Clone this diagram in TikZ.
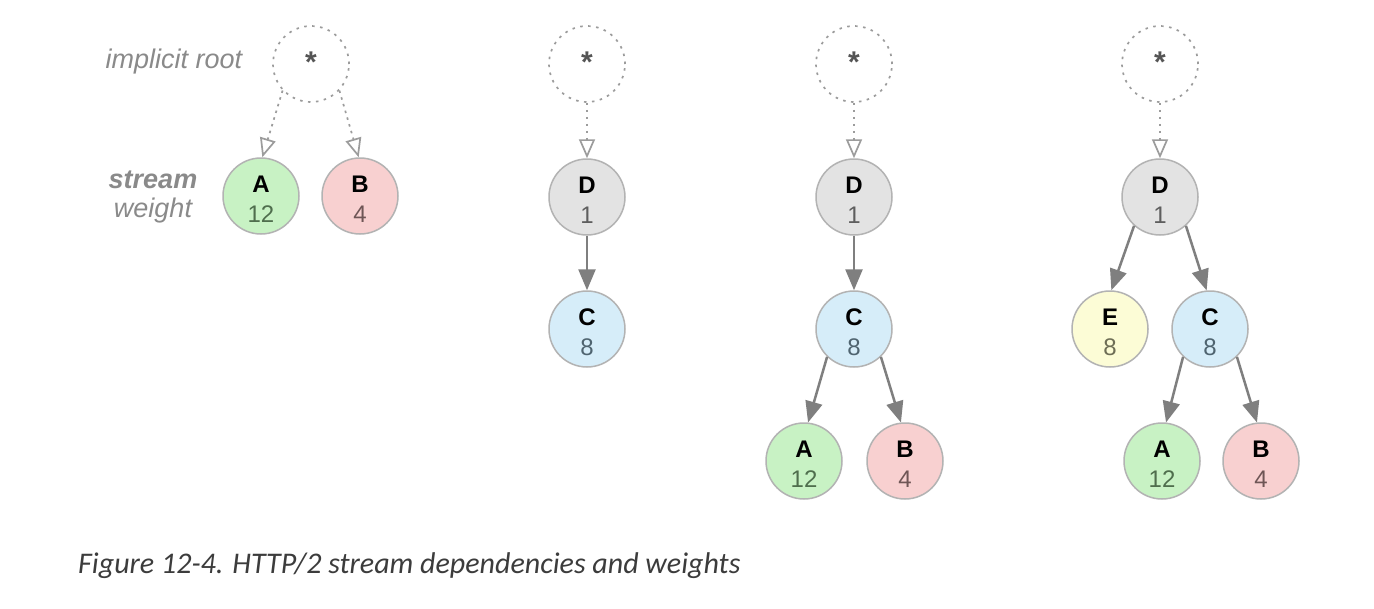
\documentclass[tikz,border=0pt]{standalone}
\usepackage{fontspec}
\setmainfont{Liberation Sans}
\newfontfamily\capfont{Carlito}
\usetikzlibrary{arrows.meta}
\definecolor{ringc}{HTML}{B3B3B3}
\definecolor{rootc}{HTML}{9C9C9C}
\definecolor{arrc}{HTML}{7F7F7F}
\definecolor{fillA}{HTML}{C8F2C4}
\definecolor{fillB}{HTML}{F8D0D0}
\definecolor{fillC}{HTML}{D6EDF9}
\definecolor{fillD}{HTML}{E3E3E3}
\definecolor{fillE}{HTML}{FCFCD6}
\definecolor{numA}{HTML}{4F6E4D}
\definecolor{numB}{HTML}{6F5656}
\definecolor{numC}{HTML}{4F6470}
\definecolor{numD}{HTML}{5E5E5E}
\definecolor{numE}{HTML}{6E6E56}
\definecolor{labc}{HTML}{8A8A8A}
\definecolor{capc}{HTML}{3C3C3C}
\definecolor{starc}{HTML}{555555}
\newcommand{\sn}[3]{\rule{0pt}{22.5pt}\textbf{\color{black}#1}\\{\color{#3}#2}}
\begin{document}
\begin{tikzpicture}[x=1pt,y=-1pt,
  stream/.style={circle,draw=ringc,line width=1.5pt,minimum size=76pt,inner sep=0pt,
    align=center,font=\fontsize{24}{30}\selectfont},
  sA/.style={stream,fill=fillA},
  sB/.style={stream,fill=fillB},
  sC/.style={stream,fill=fillC},
  sD/.style={stream,fill=fillD},
  sE/.style={stream,fill=fillE},
  rootnode/.style={circle,draw=rootc,line width=1.7pt,dash pattern=on 2.5pt off 5.5pt,
    minimum size=76pt,inner sep=0pt},
  star/.style={inner sep=0pt,font=\fontsize{30}{30}\selectfont\bfseries,text=starc},
  dep/.style={draw=arrc,line width=2.5pt,-{Triangle[length=21pt,width=17pt]}},
  rootdep/.style={draw=rootc,line width=1.7pt,dash pattern=on 2.5pt off 4.5pt,
    -{Triangle[open,length=19pt,width=16pt,fill=white,sep=0pt]}},
  side/.style={text=labc,font=\fontsize{27}{27}\selectfont\itshape,inner sep=0pt}
]
\useasboundingbox (0,0) rectangle (1374,608);
\fill[white] (0,0) rectangle (1374,608);

% panel 1
\node[rootnode] (r1) at (311,64) {};
\node[star] (s1) at (311,62) {*};
\node[sA] (A1) at (261,196) {\sn{A}{12}{numA}};
\node[sB] (B1) at (360,196) {\sn{B}{4}{numB}};
\node[side] (lroot) at (174,62) {implicit root};
\node[side,font=\fontsize{27}{27}\selectfont\bfseries\itshape] (lstream) at (153,180) {stream};
\node[side] (lweight) at (153,211) {weight};
\draw[rootdep] (r1.223) -- (A1.88);
\draw[rootdep] (r1.317) -- (B1.92);

% panel 2
\node[rootnode] (r2) at (587,64) {};
\node[star] (s2) at (587,62) {*};
\node[sD] (D2) at (587,197) {\sn{D}{1}{numD}};
\node[sC] (C2) at (587,329) {\sn{C}{8}{numC}};
\draw[rootdep] (r2.south) -- (D2.north);
\draw[dep] (D2.south) -- (C2.north);

% panel 3
\node[rootnode] (r3) at (854,64) {};
\node[star] (s3) at (854,62) {*};
\node[sD] (D3) at (854,197) {\sn{D}{1}{numD}};
\node[sC] (C3) at (854,329) {\sn{C}{8}{numC}};
\node[sA] (A3) at (804,461) {\sn{A}{12}{numA}};
\node[sB] (B3) at (905,461) {\sn{B}{4}{numB}};
\draw[rootdep] (r3.south) -- (D3.north);
\draw[dep] (D3.south) -- (C3.north);
\draw[dep] (C3.226) -- (A3.84);
\draw[dep] (C3.314) -- (B3.96);

% panel 4
\node[rootnode] (r4) at (1160,64) {};
\node[star] (s4) at (1160,62) {*};
\node[sD] (D4) at (1160,197) {\sn{D}{1}{numD}};
\node[sE] (E4) at (1110,329) {\sn{E}{8}{numE}};
\node[sC] (C4) at (1210,329) {\sn{C}{8}{numC}};
\node[sA] (A4) at (1162,461) {\sn{A}{12}{numA}};
\node[sB] (B4) at (1261,461) {\sn{B}{4}{numB}};
\draw[rootdep] (r4.south) -- (D4.north);
\draw[dep] (D4.228) -- (E4.88);
\draw[dep] (D4.312) -- (C4.95);
\draw[dep] (C4.226) -- (A4.84);
\draw[dep] (C4.314) -- (B4.96);

% caption
\node[anchor=west,inner sep=0pt,text=capc,font=\capfont\fontsize{30}{30}\selectfont\itshape] (cap) at (78,566)
  {Figure 12-4. HTTP/2 stream dependencies and weights};
\end{tikzpicture}
\end{document}
